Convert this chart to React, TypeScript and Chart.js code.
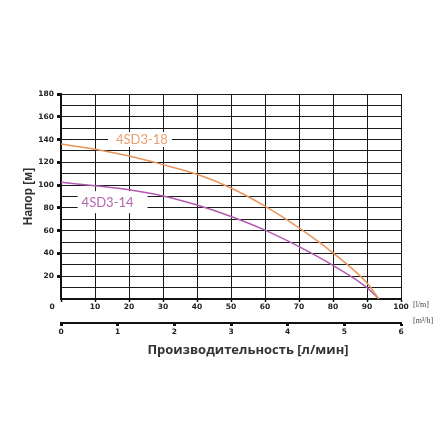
import React, { useEffect, useRef } from 'react';
import Chart from 'chart.js/auto';

// flow in l/min, head in m
const flow = [0, 10, 20, 30, 40, 50, 60, 70, 80, 90, 93.5];
const head18 = [136, 131.5, 125.5, 118, 109.5, 97.5, 81.5, 62.5, 40.5, 14, 0];
const head14 = [102.5, 99.5, 96, 90.5, 82.5, 72.5, 60.5, 46, 29.5, 10, 0];

const labelNames = ['4SD3-18', '4SD3-14'];
const labelFlow = [23.8, 13.7];
const labelHead = [140, 85];

const labelColors = ['#E9A06E', '#B566B1'];
// white box round each curve label: [left pad, right pad, height]
const labelBoxes = [
  [8, 4, 15],
  [4, 14, 22],
];

const tickFont = { family: 'DejaVu Sans', size: 7.5, weight: 'bold' as const };

const extrasPlugin = {
  id: 'extras',
  // boxes go under the curves so the lines stay whole
  beforeDatasetsDraw(chart: any) {
    const { ctx } = chart;
    const xs = chart.scales.x;
    const ys = chart.scales.y;
    ctx.save();
    ctx.font = '13px Lato';
    ctx.textAlign = 'center';
    ctx.textBaseline = 'middle';
    labelNames.forEach((text, i) => {
      const px = xs.getPixelForValue(labelFlow[i]);
      const py = ys.getPixelForValue(labelHead[i]);
      const w = ctx.measureText(text).width;
      const [pl, pr, h] = labelBoxes[i];
      ctx.fillStyle = '#fff';
      ctx.fillRect(px - w / 2 - pl, py - h / 2, w + pl + pr, h);
      ctx.fillStyle = labelColors[i];
      ctx.fillText(text, px, py + 0.5);
    });
    ctx.restore();
  },
  afterDraw(chart: any) {
    const { ctx } = chart;
    ctx.save();
    ctx.fillStyle = '#222';
    ctx.font = 'bold 7.5px "DejaVu Sans"';
    ctx.textAlign = 'center';
    ctx.textBaseline = 'middle';
    ctx.fillText('0', 52, 307);
    ctx.font = '8px "Liberation Serif"';
    ctx.fillStyle = '#444';
    ctx.textAlign = 'left';
    ctx.fillText('[l/m]', 413, 305);
    ctx.fillText('[m³/h]', 413, 321);
    ctx.font = 'bold 13px "Open Sans"';
    ctx.fillStyle = '#333';
    ctx.textAlign = 'center';
    ctx.fillText('Производительность [л/мин]', 248, 350);
    ctx.restore();
  },
};

const PumpChart: React.FC = () => {
  const chartRef = useRef<HTMLCanvasElement>(null);

  useEffect(() => {
    document.body.style.margin = '0';
    if (!chartRef.current) return;
    const ctx = chartRef.current.getContext('2d');
    if (!ctx) return;

    const chart = new Chart(ctx, {
      type: 'line',
      data: {
        datasets: [
          {
            label: '4SD3-18',
            data: flow.map((f, i) => ({ x: f, y: head18[i] })),
            borderColor: '#E8955A',
            borderWidth: 1.5,
            pointRadius: 0,
            cubicInterpolationMode: 'monotone',
          },
          {
            label: '4SD3-14',
            data: flow.map((f, i) => ({ x: f, y: head14[i] })),
            borderColor: '#B25BB0',
            borderWidth: 1.5,
            pointRadius: 0,
            cubicInterpolationMode: 'monotone',
          },
        ],
      },
      options: {
        responsive: false,
        animation: false,
        layout: { padding: { left: 0, top: 94, right: 39, bottom: 101 } },
        plugins: { legend: { display: false }, tooltip: { enabled: false } },
        scales: {
          x: {
            type: 'linear',
            position: 'bottom',
            min: 0,
            max: 100,
            ticks: {
              stepSize: 10,
              autoSkip: false,
              font: tickFont,
              color: '#222',
              padding: 1,
              maxRotation: 0,
              callback: (v: any) => (v === 0 ? '' : v),
            },
            grid: { color: '#1a1a1a', lineWidth: 1, tickLength: 3, tickWidth: 1.5, tickColor: '#111' },
            border: { display: true, color: '#111', width: 2 },
            afterFit: (s: any) => {
              s.height = 24;
            },
          },
          x2: {
            type: 'linear',
            position: 'bottom',
            min: 0,
            max: 6,
            ticks: { stepSize: 1, autoSkip: false, font: tickFont, color: '#222', padding: 2, maxRotation: 0 },
            grid: { drawOnChartArea: false, tickLength: 3, tickWidth: 3, tickColor: '#111' },
            border: { display: true, color: '#111', width: 2 },
            afterFit: (s: any) => {
              s.height = 16;
            },
          },
          y: {
            min: 0,
            max: 180,
            ticks: {
              stepSize: 10,
              autoSkip: false,
              font: tickFont,
              color: '#222',
              padding: 3,
              callback: (v: any) => (v % 20 === 0 && v !== 0 ? v : ''),
            },
            grid: {
              color: '#1a1a1a',
              lineWidth: 1,
              tickLength: 4,
              tickWidth: 3,
              tickColor: (c: any) =>
                c.tick && c.tick.value % 20 === 0 && c.tick.value !== 0 ? '#111' : 'rgba(0,0,0,0)',
            },
            border: { display: true, color: '#111', width: 2 },
            title: {
              display: true,
              text: 'Напор [м]',
              color: '#333',
              font: { family: 'Liberation Sans', size: 12, weight: 'bold' },
              padding: { top: 21, bottom: 0 },
            },
            afterFit: (s: any) => {
              s.width = 61;
            },
          },
        },
      },
      plugins: [extrasPlugin],
    });

    return () => chart.destroy();
  }, []);

  return <canvas ref={chartRef} width={440} height={440} />;
};

export default function App() {
  return <PumpChart />;
}
